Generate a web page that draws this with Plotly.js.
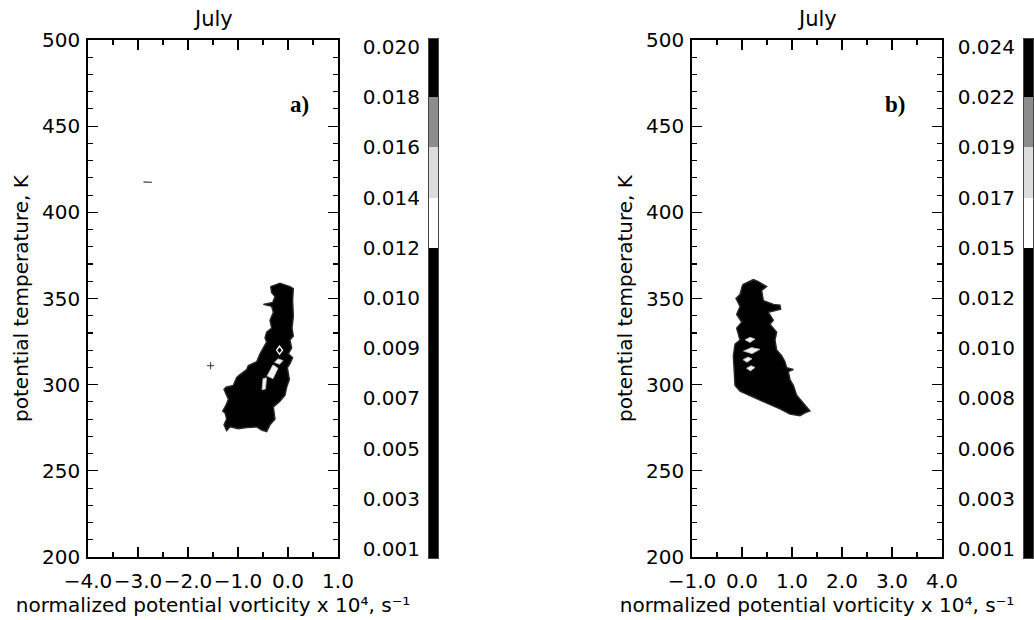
<!DOCTYPE html>
<html>
<head>
<meta charset="utf-8">
<script src="https://cdn.plot.ly/plotly-3.0.1.min.js"></script>
<style>html,body{margin:0;padding:0;background:#fff;}#chart{width:1034px;height:620px;}</style>
</head>
<body>
<div id="chart"></div>
<script>
// ---- data ----
const panelTitles = ['July', 'July'];
const panelLabels = ['a)', 'b)'];
const xRangeA = [-4, 1];
const xRangeB = [-1, 4];
const yRange = [200, 500];

// panel a: outline of the density region (PV x1e4, theta K)
const blobAx = [-0.347,-0.16,0.04,0.107,0.093,0.107,0.08,0.107,0.04,0.073,0.007,0.093,0.04,-0.013,0.027,-0.027,-0.06,-0.16,-0.293,-0.26,-0.36,-0.427,-0.527,-0.627,-0.827,-0.993,-1.16,-1.227,-1.28,-1.227,-1.26,-1.307,-1.24,-1.193,-1.28,-1.24,-1.093,-1.027,-0.96,-0.827,-0.793,-0.627,-0.56,-0.493,-0.427,-0.46,-0.427,-0.327,-0.36,-0.293,-0.327,-0.493,-0.307,-0.26,-0.327,-0.347];
const blobAy = [356.9,358.9,356.9,355.7,348.8,339.7,332.8,328.2,325.9,321.3,317.9,315.6,312.2,309.9,303.0,298.5,293.9,290.4,287.0,280.1,276.7,272.8,273.7,275.5,275.1,274.4,275.5,273.3,276.7,280.1,283.6,284.7,288.1,291.6,297.3,298.5,299.6,304.2,305.8,308.8,311.1,313.3,317.9,321.3,324.8,327.1,330.5,332.8,337.4,342.0,345.4,346.6,347.7,351.1,353.4,356.9];
// panel a: light gaps inside the region
const holesAx = [[-0.27,-0.2,-0.1,-0.17,-0.27],[-0.42,-0.3,-0.2,-0.3,-0.42],[-0.52,-0.5,-0.43,-0.45,-0.52]];
const holesAy = [[313,315,314,311.8,313],[305,311.5,309.5,303.5,305],[297,303.5,304,297.5,297]];
const ringAx = [-0.23,-0.17,-0.11,-0.17,-0.23];
const ringAy = [320,322.3,320,317.7,320];
// panel a: stray specks
const dashAx = [-2.89,-2.72];
const dashAy = [417.6,417.4];
const speckAx = [-1.547];
const speckAy = [311];

// panel b: outline of the density region
const blobBx = [0.013,0.227,0.327,0.493,0.393,0.427,0.627,0.76,0.773,0.66,0.527,0.627,0.56,0.693,0.66,0.693,0.793,0.86,0.893,1.027,0.927,0.96,1.027,1.093,1.227,1.36,1.26,1.16,0.96,0.76,0.493,0.227,-0.04,-0.14,-0.153,-0.173,-0.14,-0.04,-0.107,-0.007,-0.107,-0.04,-0.12,-0.04,0.013];
const blobBy = [358.0,361.0,359.8,356.9,354.6,348.8,346.6,346.1,343.8,343.1,342.0,337.4,335.1,330.5,325.9,320.2,316.8,313.3,309.9,308.8,307.6,303.0,299.6,293.9,289.3,284.7,283.6,282.0,282.9,285.9,289.3,292.7,296.2,299.6,307.6,316.8,323.6,325.9,332.8,336.3,340.8,345.4,350.0,352.3,358.0];
const holesBx = [[0.06,0.16,0.26,0.16,0.06],[0.03,0.19,0.36,0.2,0.03],[0.02,0.12,0.2,0.1,0.02],[0.09,0.18,0.26,0.17,0.09]];
const holesBy = [[326,327.5,326.5,324.5,326],[319.5,321.5,320.5,318,319.5],[314.5,316,315,313,314.5],[309.5,311,310,308,309.5]];

// colour bars: tick labels (bottom to top) and shade bands
const cbTicksA = ['0.001','0.003','0.005','0.007','0.009','0.010','0.012','0.014','0.016','0.018','0.020'];
const cbTicksB = ['0.001','0.003','0.006','0.008','0.010','0.012','0.015','0.017','0.019','0.022','0.024'];
const cbEdges = [-0.18, 6, 7, 8, 9, 10.16];   // band edges in tick-index units
const cbShade = [0, 3, 2, 1, 0];              // 0 black, 1 grey, 2 light, 3 white

// ---- layout helpers ----
const W = 1034, H = 620;
const px = v => v / W;
const py = v => 1 - v / H;
const FONT = 'DejaVu Sans, sans-serif';
const TICK = 20, TITLE = 20;
const xTitle = 'normalized potential vorticity x 10\u2074, s\u207B\u00B9';
const yTitle = 'potential temperature, K';

function frameAxis(range, d0, d1, dtick, mdtick, isX) {
  return {
    range: range, domain: isX ? [px(d0), px(d1)] : [py(d1), py(d0)],
    showgrid: false, zeroline: false, showline: true, linecolor: '#000', linewidth: 1.8,
    mirror: 'allticks', ticks: 'inside', ticklen: 10, tickwidth: 1.2, tickcolor: '#000',
    dtick: dtick, tick0: range[0], tickformat: isX ? '.1f' : 'd', tickangle: 0,
    minor: {dtick: mdtick, ticks: 'inside', ticklen: 5, tickwidth: 1.1, tickcolor: '#000', showgrid: false},
    tickfont: {family: FONT, size: TICK, color: '#000'},
    ticklabelstandoff: isX ? 5 : 2,
    title: {text: isX ? xTitle : yTitle, standoff: isX ? 4 : 8, font: {family: FONT, size: TITLE, color: '#000'}},
    automargin: false,
    fixedrange: true
  };
}
function cbYAxis(texts) {
  return {
    range: [cbEdges[0], cbEdges[cbEdges.length - 1]], domain: [py(558), py(39)],
    tickvals: texts.map((t, i) => i), ticktext: texts, ticks: '', side: 'left',
    showgrid: false, zeroline: false, showline: true, linecolor: '#444', linewidth: 1, mirror: true,
    tickfont: {family: FONT, size: TICK, color: '#000'}, ticklabelstandoff: 4, fixedrange: true
  };
}
function cbXAxis(d0, d1) {
  return {range: [0, 1], domain: [px(d0), px(d1)], showticklabels: false, ticks: '',
    showgrid: false, zeroline: false, showline: true, linecolor: '#444', linewidth: 1, mirror: true,
    fixedrange: true};
}

const traces = [];
function blob(x, y, xa, ya) {
  traces.push({type: 'scatter', mode: 'lines', x: x, y: y, xaxis: xa, yaxis: ya, fill: 'toself',
    fillcolor: '#000', line: {color: '#2a2a2a', width: 1.4}, hoverinfo: 'skip'});
}
function holes(xs, ys, xa, ya) {
  xs.forEach((x, i) => traces.push({type: 'scatter', mode: 'lines', x: x, y: ys[i], xaxis: xa, yaxis: ya,
    fill: 'toself', fillcolor: '#f4f4f4', line: {color: '#bbbbbb', width: 0.8}, hoverinfo: 'skip'}));
}
blob(blobAx, blobAy, 'x', 'y');
holes(holesAx, holesAy, 'x', 'y');
traces.push({type: 'scatter', mode: 'lines', x: ringAx, y: ringAy, xaxis: 'x', yaxis: 'y',
  line: {color: '#ffffff', width: 1.4}, hoverinfo: 'skip'});
traces.push({type: 'scatter', mode: 'lines', x: dashAx, y: dashAy, xaxis: 'x', yaxis: 'y',
  line: {color: '#555', width: 1.4}, hoverinfo: 'skip'});
traces.push({type: 'scatter', mode: 'markers', x: speckAx, y: speckAy, xaxis: 'x', yaxis: 'y',
  marker: {symbol: 'cross-thin', size: 5, line: {color: '#333', width: 1}}, hoverinfo: 'skip'});
blob(blobBx, blobBy, 'x2', 'y2');
holes(holesBx, holesBy, 'x2', 'y2');

const cbScale = [[0, '#000000'], [0.333, '#8c8c8c'], [0.667, '#dcdcdc'], [1, '#ffffff']];
[['x3', 'y3'], ['x4', 'y4']].forEach(a => traces.push({
  type: 'heatmap', x: [0, 1], y: cbEdges, z: cbShade.map(v => [v]), xaxis: a[0], yaxis: a[1],
  colorscale: cbScale, zmin: 0, zmax: 3, showscale: false, hoverinfo: 'skip'
}));

function ann(text, x, y, opts) {
  return Object.assign({text: text, x: px(x), y: py(y), xref: 'paper', yref: 'paper',
    xanchor: 'center', yanchor: 'middle', showarrow: false,
    font: {family: FONT, size: TITLE, color: '#000'}}, opts || {});
}
const boldSerif = {family: 'Liberation Serif, Times New Roman, serif', size: 23, color: '#000', weight: 'bold'};
const julyFont = {family: FONT, size: 21, color: '#000'};

const layout = {
  width: W, height: H, margin: {l: 0, r: 0, t: 0, b: 0},
  paper_bgcolor: '#fff', plot_bgcolor: '#fff', showlegend: false,
  font: {family: FONT, size: TICK, color: '#000'},
  xaxis: frameAxis(xRangeA, 88, 338, 1, 0.5, true),
  yaxis: frameAxis(yRange, 40, 557, 50, 10, false),
  xaxis2: frameAxis(xRangeB, 692, 942, 1, 0.5, true),
  yaxis2: frameAxis(yRange, 40, 557, 50, 10, false),
  xaxis3: cbXAxis(429, 438), yaxis3: cbYAxis(cbTicksA),
  xaxis4: cbXAxis(1024, 1033), yaxis4: cbYAxis(cbTicksB),
  annotations: [
    ann(panelTitles[0], 213, 19, {font: julyFont}), ann(panelTitles[1], 817, 19, {font: julyFont}),
    ann(panelLabels[0], 299, 105, {font: boldSerif}),
    ann(panelLabels[1], 895, 105, {font: boldSerif})
  ]
};
layout.yaxis2.anchor = 'x2'; layout.xaxis2.anchor = 'y2';
layout.xaxis.anchor = 'y'; layout.yaxis.anchor = 'x';
layout.yaxis3.anchor = 'x3'; layout.xaxis3.anchor = 'y3';
layout.yaxis4.anchor = 'x4'; layout.xaxis4.anchor = 'y4';

Plotly.newPlot('chart', traces, layout, {staticPlot: true, displayModeBar: false});
</script>
</body>
</html>
